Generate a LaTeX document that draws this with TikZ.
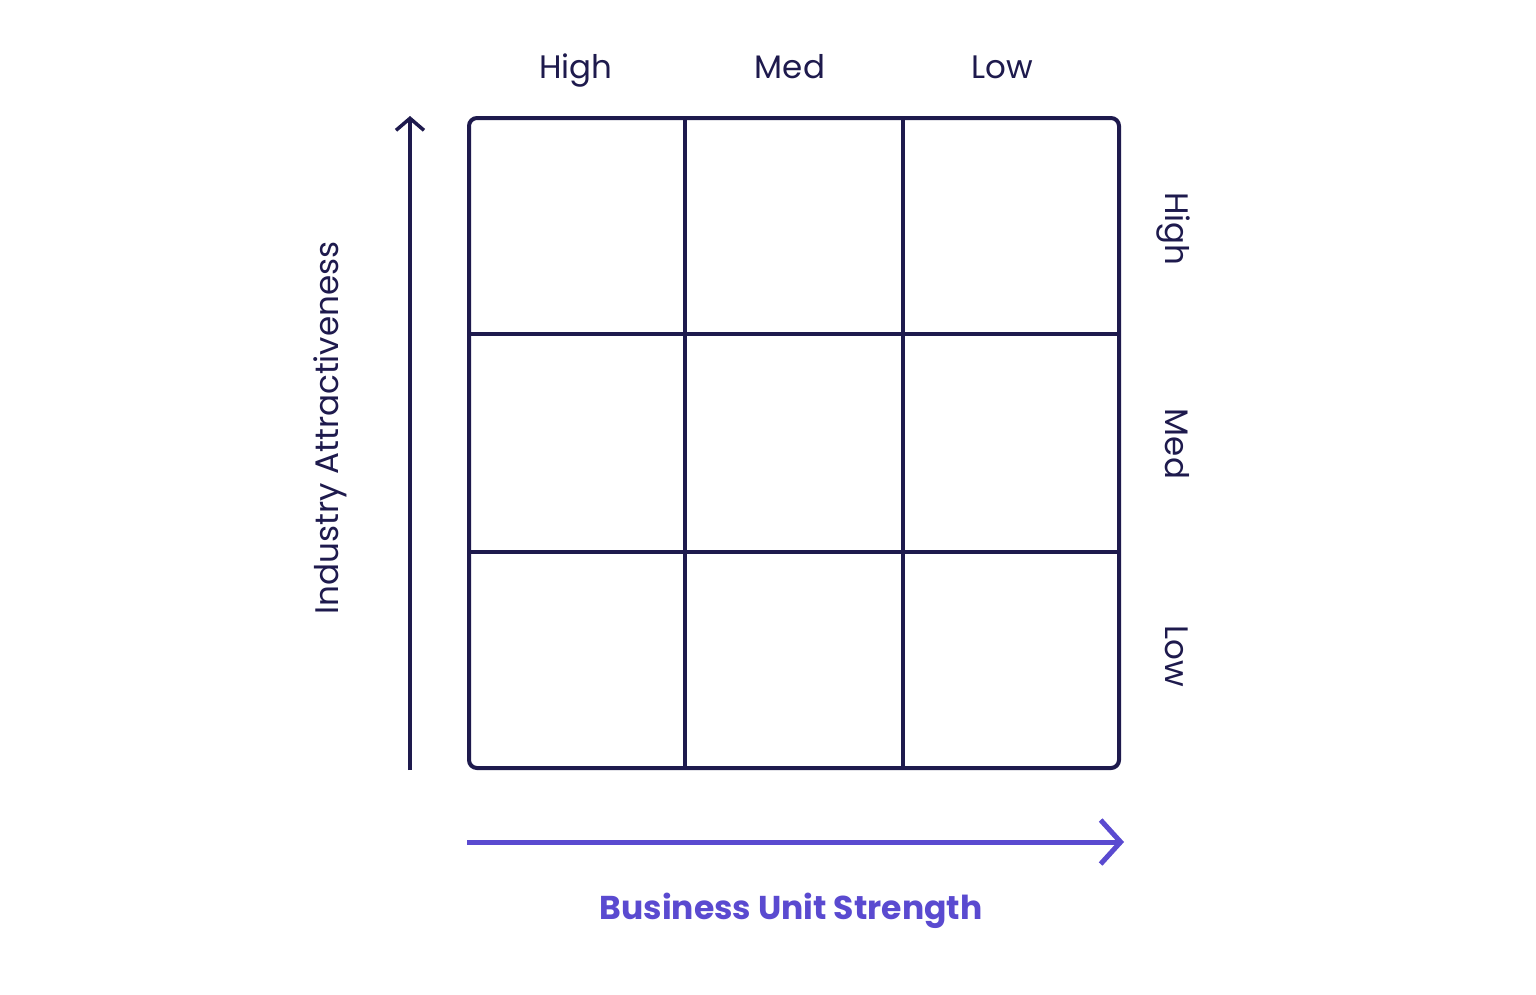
\documentclass[tikz,border=0pt]{standalone}
\usepackage{fontspec}
\setmainfont{Poppins}
\usetikzlibrary{arrows.meta}
\definecolor{navy}{HTML}{1E1A4D}
\definecolor{purp}{HTML}{5A4AD0}
\begin{document}
\begin{tikzpicture}[x=1pt,y=-1pt,
  gridline/.style={draw=navy,line width=4pt},
  lab/.style={text=navy,font=\fontsize{32.5}{32.5}\selectfont,inner sep=0pt}]
\useasboundingbox[fill=white] (0,0) rectangle (1536,994);
\coordinate (tl) at (469,118);
\coordinate (br) at (1119,768);
\draw[gridline,rounded corners=8pt] (tl) rectangle (br);
\draw[gridline] (685,118) -- (685,768);
\draw[gridline] (903,118) -- (903,768);
\draw[gridline] (469,334) -- (1119,334);
\draw[gridline] (469,552) -- (1119,552);
\node[lab,anchor=base] (h1) at (576,78) {High};
\node[lab,anchor=base] (h2) at (790,78) {Med};
\node[lab,anchor=base] (h3) at (1002,78) {Low};
\node[lab,rotate=-90,anchor=base] (v1) at (1165,229) {High};
\node[lab,rotate=-90,anchor=base] (v2) at (1165,444) {Med};
\node[lab,rotate=-90,anchor=base] (v3) at (1165,656) {Low};
\node[lab,rotate=90,font=\fontsize{32.6}{32.6}\selectfont] (ia) at (330,428) {Industry Attractiveness};
\node[text=purp,font=\fontsize{33}{33}\selectfont\bfseries,inner sep=0pt] (bus) at (791,911) {Business Unit Strength};
\coordinate (a0) at (410,770);
\coordinate (a1) at (410,116);
\draw[navy,line width=3.5pt,-{Straight Barb[length=12pt,width=28pt,line width=3.5pt]}] (a0) -- (a1);
\coordinate (b0) at (467,842);
\coordinate (b1) at (1124,842);
\draw[purp,line width=5pt,-{Straight Barb[length=20pt,width=44pt,line width=5pt]}] (b0) -- (b1);
\end{tikzpicture}
\end{document}
